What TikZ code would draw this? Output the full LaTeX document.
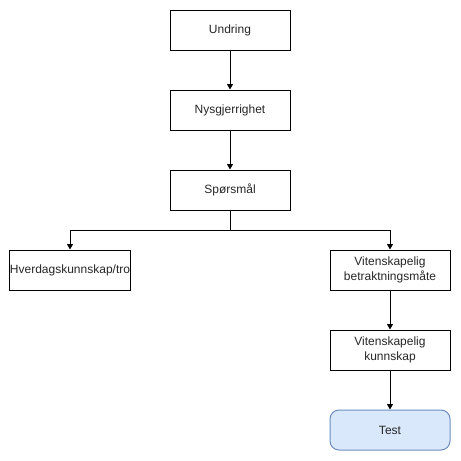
\documentclass[tikz,border=0pt]{standalone}
\usepackage{fontspec}
\setmainfont{Liberation Sans}
\usetikzlibrary{arrows.meta}
\definecolor{tfill}{HTML}{DAE8FC}
\definecolor{tdraw}{HTML}{6C8EBF}
\begin{document}
\begin{tikzpicture}[x=1pt,y=-1pt,
  box/.style={draw=black,line width=1pt,minimum width=120pt,minimum height=40pt,inner sep=0pt,align=center,font=\fontsize{12}{14.5}\selectfont,text=black!85},
  tbox/.style={box,draw=tdraw,fill=tfill,rounded corners=9pt},
  arr/.style={line width=1pt,-{Triangle[length=5.5pt,width=6pt]}}]
\useasboundingbox (0,0) rectangle (461,461);
\node[box] (a) at (230,30) {Undring};
\node[box] (b) at (230,110) {Nysgjerrighet};
\node[box] (c) at (230,190) {Spørsmål};
\node[box] (d) at (70,270) {Hverdagskunnskap/tro};
\node[box] (e) at (390,270) {Vitenskapelig\\betraktningsmåte};
\node[box] (f) at (390,350) {Vitenskapelig\\kunnskap};
\node[tbox] (g) at (390,430) {Test};
\draw[arr] (a) -- (b);
\draw[arr] (b) -- (c);
\draw[arr] (c.south) -- ++(0,20) -| (d.north);
\draw[arr] (c.south) -- ++(0,20) -| (e.north);
\draw[arr] (e) -- (f);
\draw[arr] (f) -- (g);
\end{tikzpicture}
\end{document}
